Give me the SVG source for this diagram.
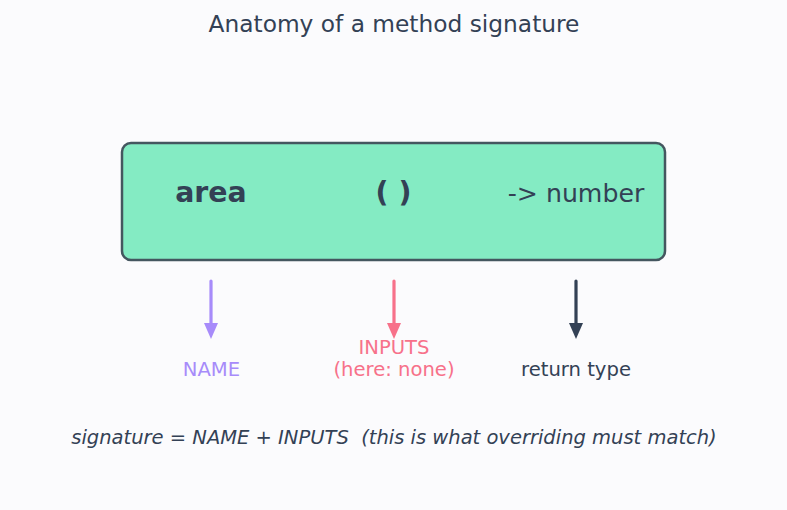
<svg xmlns="http://www.w3.org/2000/svg" width="787" height="510" viewBox="0 0 787 510">
<style>
text{font-family:"DejaVu Sans","Noto Sans",sans-serif;text-anchor:middle}
.ttl{font-size:23.3px;fill:#334155}
.dark{fill:#334155}
.lbl{font-size:19.6px}
</style>
<rect width="787" height="510" fill="#fbfbfd"/>
<text class="ttl" x="394" y="32">Anatomy of a method signature</text>
<g id="signature">
<rect x="122" y="143" width="543" height="117" rx="9" fill="#84ebc3" stroke="#44565f" stroke-width="2.5"/>
<text x="211" y="202" font-size="28.4" font-weight="bold" class="dark">area</text>
<text x="393.5" y="202" font-size="28.4" font-weight="bold" class="dark">( )</text>
<text x="576" y="202" font-size="25.2" class="dark">-&gt; number</text>
</g>
<g id="connectors" stroke-width="3.2" stroke-linecap="round">
<line x1="211" y1="281" x2="211" y2="326" stroke="#a78bfa"/>
<path d="M204,323 L218,323 L211,339 z" fill="#a78bfa"/>
<line x1="394" y1="281" x2="394" y2="326" stroke="#f7718a"/>
<path d="M387,323 L401,323 L394,339 z" fill="#f7718a"/>
<line x1="576" y1="281" x2="576" y2="326" stroke="#334155"/>
<path d="M569,323 L583,323 L576,339 z" fill="#334155"/>
</g>
<g id="name"><text class="lbl" x="211.5" y="376" fill="#a78bfa">NAME</text></g>
<g id="inputs"><text class="lbl" x="394" y="354" fill="#f7718a">INPUTS</text><text class="lbl" x="394" y="376" fill="#f7718a">(here: none)</text></g>
<g id="return"><text class="lbl" x="576" y="376" fill="#334155">return type</text></g>
<text x="394" y="444" font-size="19.5" font-style="italic" class="dark" xml:space="preserve">signature = NAME + INPUTS  (this is what overriding must match)</text>
</svg>
